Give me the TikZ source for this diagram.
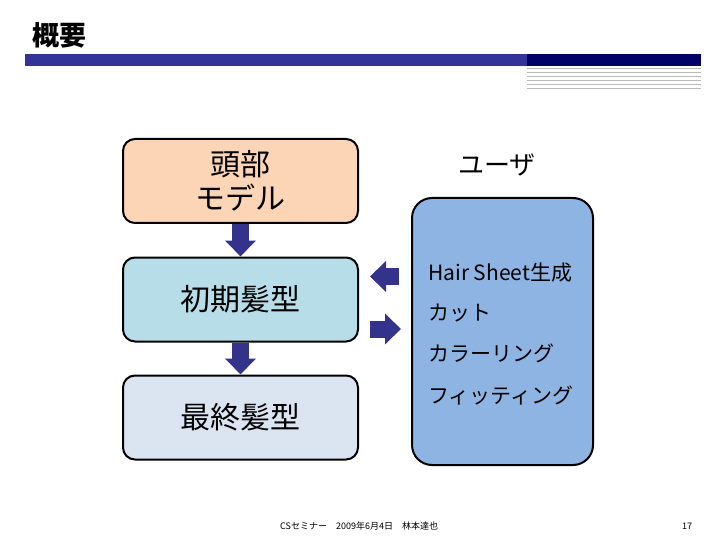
\documentclass[tikz,border=0pt]{standalone}
\usepackage{fontspec}
\newfontfamily\cjk{Noto Sans CJK JP}
\usetikzlibrary{arrows.meta}
\definecolor{barblue}{RGB}{51,51,153}
\definecolor{barnavy}{RGB}{0,0,102}
\definecolor{peach}{RGB}{251,213,181}
\definecolor{paleblue}{RGB}{183,222,232}
\definecolor{mistblue}{RGB}{219,229,241}
\definecolor{userblue}{RGB}{142,180,227}
\definecolor{arrowblue}{RGB}{51,51,140}

\begin{document}
\begin{tikzpicture}[x=1pt, y=-1pt,
    box/.style={draw, line width=2pt, rounded corners=12pt, minimum width=235pt, minimum height=84pt, align=center, font=\cjk\fontsize{30}{34}\selectfont},
    blockarrow/.style={arrowblue, line width=17pt, -{Triangle[length=16pt, width=30pt]}},
    item/.style={anchor=west, inner sep=0pt, font=\cjk\fontsize{21}{24}\selectfont}]
  \useasboundingbox (0,0) rectangle (720,540);

  \node[anchor=west, inner sep=0pt, font=\cjk\bfseries\fontsize{27}{30}\selectfont] (title) at (32,35) {概要};
  \fill[barblue] (25,54) rectangle (527,66);
  \fill[barnavy] (527,54) rectangle (701,66);
  \foreach \i in {0,1,...,5} {
    \draw[gray!55, line width=1pt] (527,68.3+4*\i) -- (701,68.3+4*\i);
  }

  \node[box, fill=peach]    (head)  at (240.5,181)   {頭部\\モデル};
  \node[box, fill=paleblue] (init)  at (240.5,299.5) {初期髪型};
  \node[box, fill=mistblue] (final) at (240.5,417.5) {最終髪型};
  \node[draw, line width=2pt, rounded corners=20pt, fill=userblue, minimum width=181pt, minimum height=267pt] (user) at (502.5,331.5) {};

  \node[font=\cjk\fontsize{26}{28}\selectfont] (userlabel) at (497,165) {ユーザ};
  \node[item] (hair)   at (428,273) {Hair Sheet生成};
  \node[item] (cut)    at (428,313) {カット};
  \node[item] (color)  at (428,353) {カラーリング};
  \node[item] (fit)    at (428,395) {フィッティング};

  \draw[blockarrow] (head) -- (init);
  \draw[blockarrow] (init) -- (final);
  \coordinate (back) at ([yshift=55pt]user.west);
  \coordinate (forth) at ([yshift=2.5pt]user.west);
  \draw[blockarrow, shorten <=12pt, shorten >=11pt] (back) -- (back -| init.east);
  \draw[blockarrow, shorten <=11pt, shorten >=10pt] (forth -| init.east) -- (forth);

  \node[anchor=west, inner sep=0pt, font=\cjk\fontsize{9}{10}\selectfont] (footer) at (280,526) {CSセミナー　2009年6月4日　林本達也};
  \node[inner sep=0pt, font=\cjk\fontsize{9}{10}\selectfont] (page) at (687,526) {17};
\end{tikzpicture}
\end{document}
